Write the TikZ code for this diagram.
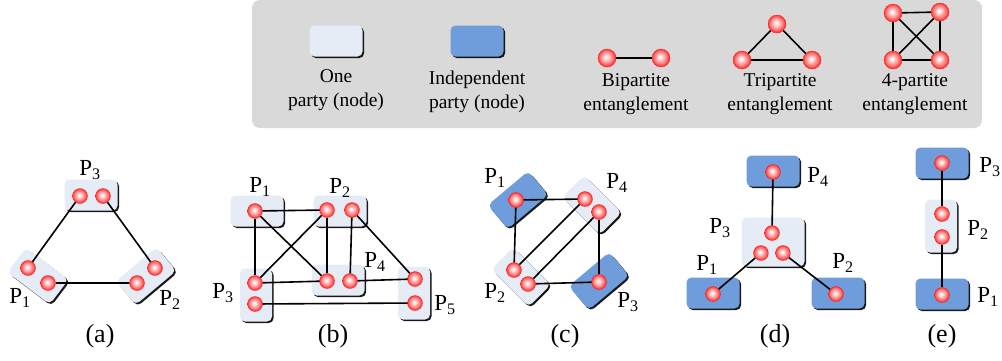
\documentclass[tikz,border=0pt]{standalone}
\usepackage{fontspec}
\setmainfont{Liberation Serif}
\usetikzlibrary{shadows}
\definecolor{partyfill}{HTML}{E6ECF6}
\definecolor{indepfill}{HTML}{6F9CDA}
\definecolor{legendfill}{HTML}{D9D9D9}
\pgfdeclareradialshading{qubit}{\pgfpoint{-3bp}{3bp}}{color(0bp)=(white); color(6bp)=(white!85!red); color(17bp)=(red!50!white); color(25bp)=(red!85!white); color(29bp)=(red); color(50bp)=(red)}
\tikzset{
	party/.style={rounded corners=5pt, fill=partyfill, minimum width=53pt, minimum height=31pt, inner sep=0pt,
		drop shadow={shadow xshift=1.6pt, shadow yshift=-1.6pt, fill=black, opacity=0.9}},
	vparty/.style={party, minimum width=32pt, minimum height=53pt},
	indep/.style={party, fill=indepfill},
	qb/.style={circle, minimum size=15pt, inner sep=0pt, shading=qubit, draw=red!90, line width=0.3pt},
	bigqb/.style={qb, minimum size=18pt},
	link/.style={line width=1.6pt, black},
	plabel/.style={font=\fontsize{23}{25}\selectfont},
	legtext/.style={font=\fontsize{19.5}{23.5}\selectfont, align=center},
	caption/.style={font=\fontsize{26}{28}\selectfont}
}
\begin{document}
\begin{tikzpicture}[x=1pt,y=-1pt]
	\useasboundingbox (0,0) rectangle (1002,360);

	\node[fill=legendfill, rounded corners=8pt, minimum width=730pt, minimum height=128pt] at (617,64) (legend) {};
	\node[party] at (336,41) (oneparty) {};
	\node[indep] at (477,41) (indparty) {};
	\node[legtext] at (336,90) (onetext) {One\\party (node)};
	\node[legtext] at (477,92) (indtext) {Independent\\party (node)};

	\node[bigqb] at (607,58) (bi1) {};
	\node[bigqb] at (661,58) (bi2) {};
	\node[bigqb] at (777,24) (tri1) {};
	\node[bigqb] at (742,60) (tri2) {};
	\node[bigqb] at (812,60) (tri3) {};
	\node[bigqb] at (893,13) (quad1) {};
	\node[bigqb] at (940,12) (quad2) {};
	\node[bigqb] at (893,60) (quad3) {};
	\node[bigqb] at (940,60) (quad4) {};
	\node[legtext] at (636,94) (bitext) {Bipartite\\entanglement};
	\node[legtext] at (780,94) (tritext) {Tripartite\\entanglement};
	\node[legtext] at (915,94) (quadtext) {4-partite\\entanglement};

	\draw[link] (bi1)-- (bi2);
	\draw[link] (tri1)-- (tri2);
	\draw[link] (tri2)-- (tri3);
	\draw[link] (tri3)-- (tri1);
	\draw[link] (quad1)-- (quad2);
	\draw[link] (quad1)-- (quad3);
	\draw[link] (quad1)-- (quad4);
	\draw[link] (quad2)-- (quad3);
	\draw[link] (quad2)-- (quad4);
	\draw[link] (quad3)-- (quad4);

	\node[party] at (91,195) (A3) {};
	\node[party, rotate=-37] at (38,276) (A1) {};
	\node[party, rotate=40] at (146,276) (A2) {};
	\node[qb] at (80,196) (a3) {};
	\node[qb] at (103,196) (a3b) {};
	\node[qb] at (28,268) (a1) {};
	\node[qb] at (48,283) (a1b) {};
	\node[qb] at (155,268) (a2) {};
	\node[qb] at (137,283) (a2b) {};
	\node[plabel] at (90,170) (pa3) {P\textsubscript{3}};
	\node[plabel] at (20,298) (pa1) {P\textsubscript{1}};
	\node[plabel] at (170,300) (pa2) {P\textsubscript{2}};
	\node[caption] at (100,336) (capa) {(a)};

	\draw[link] (a3)-- (a1);
	\draw[link] (a3b)-- (a2);
	\draw[link] (a1b)-- (a2b);

	\node[party] at (257,211) (B1) {};
	\node[party] at (340,211) (B2) {};
	\node[vparty] at (256,295) (B3) {};
	\node[party] at (338,280) (B4) {};
	\node[vparty] at (414,293) (B5) {};
	\node[qb] at (255,211) (b1) {};
	\node[qb] at (327,210) (b2) {};
	\node[qb] at (352,210) (b2b) {};
	\node[qb] at (255,283) (b3) {};
	\node[qb] at (255,304) (b3b) {};
	\node[qb] at (327,281) (b4) {};
	\node[qb] at (350,281) (b4b) {};
	\node[qb] at (415,279) (b5) {};
	\node[qb] at (415,303) (b5b) {};
	\node[plabel] at (260,187) (pb1) {P\textsubscript{1}};
	\node[plabel] at (340,188) (pb2) {P\textsubscript{2}};
	\node[plabel] at (223,293) (pb3) {P\textsubscript{3}};
	\node[plabel] at (375,262) (pb4) {P\textsubscript{4}};
	\node[plabel] at (445,305) (pb5) {P\textsubscript{5}};
	\node[caption] at (333,336) (capb) {(b)};

	\draw[link] (b1)-- (b2);
	\draw[link] (b1)-- (b3);
	\draw[link] (b1)-- (b4);
	\draw[link] (b2)-- (b3);
	\draw[link] (b2)-- (b4);
	\draw[link] (b2b)-- (b4b);
	\draw[link] (b2b)-- (b5);
	\draw[link] (b3)-- (b4);
	\draw[link] (b4b)-- (b5);
	\draw[link] (b3b)-- (b5b);

	\node[indep, rotate=40] at (518,200) (C1) {};
	\node[party, rotate=-45] at (592,205) (C4) {};
	\node[party, rotate=-45] at (521,277) (C2) {};
	\node[indep, rotate=40] at (599,281) (C3) {};
	\node[qb] at (516,200) (c1) {};
	\node[qb] at (585,199) (c4) {};
	\node[qb] at (599,212) (c4b) {};
	\node[qb] at (514,270) (c2) {};
	\node[qb] at (528,284) (c2b) {};
	\node[qb] at (599,282) (c3) {};
	\node[plabel] at (495,178) (pc1) {P\textsubscript{1}};
	\node[plabel] at (617,183) (pc4) {P\textsubscript{4}};
	\node[plabel] at (495,293) (pc2) {P\textsubscript{2}};
	\node[plabel] at (628,302) (pc3) {P\textsubscript{3}};
	\node[caption] at (565,336) (capc) {(c)};

	\draw[link] (c1)-- (c4);
	\draw[link] (c1)-- (c2);
	\draw[link] (c2)-- (c4);
	\draw[link] (c2b)-- (c4b);
	\draw[link] (c2b)-- (c3);
	\draw[link] (c3)-- (c4b);

	\node[indep] at (773,171) (D4) {};
	\node[party, minimum width=63pt, minimum height=49pt] at (773,242) (D3) {};
	\node[indep] at (713,293) (D1) {};
	\node[indep] at (838,293) (D2) {};
	\node[qb] at (773,172) (d4) {};
	\node[qb] at (772,233) (d3) {};
	\node[qb] at (761,253) (d3b) {};
	\node[qb] at (783,253) (d3c) {};
	\node[qb] at (713,294) (d1) {};
	\node[qb] at (836,294) (d2) {};
	\node[plabel] at (818,177) (pd4) {P\textsubscript{4}};
	\node[plabel] at (720,228) (pd3) {P\textsubscript{3}};
	\node[plabel] at (707,265) (pd1) {P\textsubscript{1}};
	\node[plabel] at (843,263) (pd2) {P\textsubscript{2}};
	\node[caption] at (775,336) (capd) {(d)};

	\draw[link] (d4)-- (d3);
	\draw[link] (d3b)-- (d1);
	\draw[link] (d3c)-- (d2);

	\node[indep] at (942,163) (E3) {};
	\node[vparty] at (941,226) (E2) {};
	\node[indep] at (942,294) (E1) {};
	\node[qb] at (942,163) (e3) {};
	\node[qb] at (942,214) (e2) {};
	\node[qb] at (942,237) (e2b) {};
	\node[qb] at (942,295) (e1) {};
	\node[plabel] at (990,167) (pe3) {P\textsubscript{3}};
	\node[plabel] at (978,230) (pe2) {P\textsubscript{2}};
	\node[plabel] at (988,297) (pe1) {P\textsubscript{1}};
	\node[caption] at (942,336) (cape) {(e)};

	\draw[link] (e3)-- (e2);
	\draw[link] (e2b)-- (e1);
\end{tikzpicture}
\end{document}
